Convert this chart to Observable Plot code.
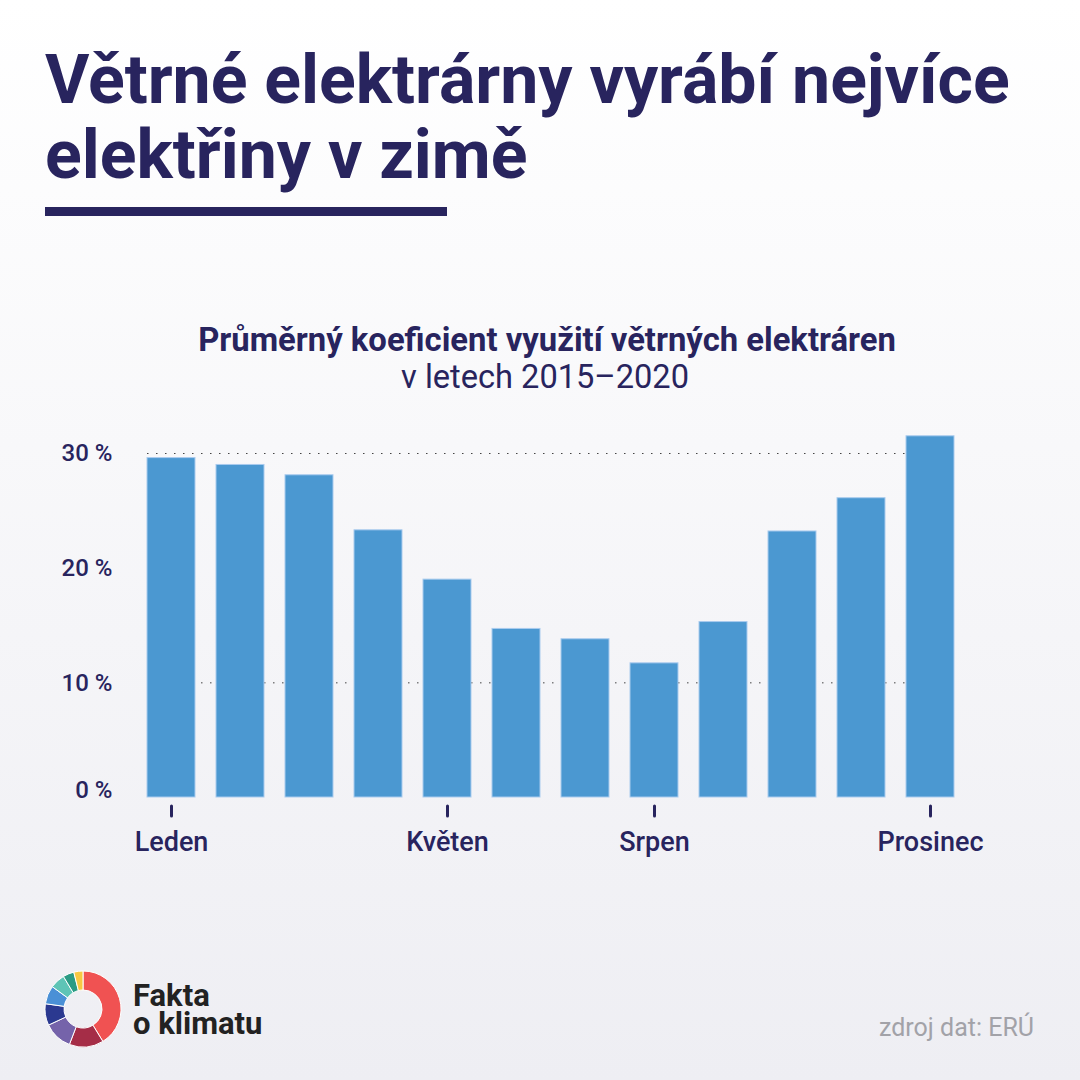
<!DOCTYPE html>
<html><head><meta charset="utf-8">
<script src="https://cdn.jsdelivr.net/npm/d3@7"></script>
<script src="https://cdn.jsdelivr.net/npm/@observablehq/plot@0.6"></script>
<style>
body{margin:0;}
#page{position:relative;width:1080px;height:1080px;background:linear-gradient(#ffffff,#eeeef3);font-family:Roboto,sans-serif;overflow:hidden;}
#overlay{position:absolute;left:0;top:0;}
#chart{position:absolute;left:0;top:400px;}
</style></head>
<body><div id="page"><div id="chart"></div><svg id="overlay" width="1080" height="1080"></svg></div>
<script>
const months = ["Leden","Únor","Březen","Duben","Květen","Červen","Červenec","Srpen","Září","Říjen","Listopad","Prosinec"];
const values = [29.6,29.0,28.1,23.3,19.0,14.7,13.8,11.7,15.3,23.2,26.1,31.5];
const shownMonths = ["Leden","Květen","Srpen","Prosinec"];
const yTicks = [10,20,30];
const gridValues = [10,30];
const logoShares = [148.5,52.5,44,33,28,23,17,14];
const logoColors = ["#f05252","#a52d47","#7563aa","#2b3990","#4a90d6","#5ec4b6","#2a9b84","#f7c843"];

const navy = "#28245e";
const data = months.map((m,i)=>({m, v: values[i]}));

const chart = Plot.plot({
  width:1080, height:480,
  marginLeft:126, marginRight:104, marginTop:0, marginBottom:74,
  x:{domain:months, padding:0.3, label:null},
  y:{domain:[0,30], range:[397,53], label:null},
  style:{background:"transparent", fontFamily:"Roboto, sans-serif", color:navy, overflow:"visible"},
  marks:[
    Plot.ruleY(gridValues,{stroke:"#444", strokeWidth:1, strokeDasharray:"1.5,7.5", insetLeft:21, insetRight:21}),
    Plot.barY(data,{x:"m", y:"v", fill:"#4b98d1", stroke:"#a9cbee", strokeWidth:1}),
    Plot.axisX({ticks:shownMonths, tickSize:10, tickPadding:15, strokeWidth:3, strokeLinecap:"round", fontSize:27, fontWeight:500, label:null}),
    Plot.axisY({ticks:yTicks, tickSize:0, tickPadding:14, tickFormat:d=>d+" %", fontSize:24, fontWeight:500, label:null}),
    Plot.axisY({ticks:[0], tickSize:0, tickPadding:14, tickFormat:d=>d+" %", fontSize:24, fontWeight:500, dy:-7, label:null})
  ]
});
document.getElementById("chart").appendChild(chart);

const svg = d3.select("#overlay");
const txt = (x,y,s,size,weight,fill,anchor="start") =>
  svg.append("text").attr("x",x).attr("y",y).attr("font-size",size).attr("font-weight",weight)
     .attr("fill",fill).attr("text-anchor",anchor).attr("font-family","Roboto, sans-serif").text(s);

txt(45,103,"Větrné elektrárny vyrábí nejvíce",68,700,navy);
txt(45,178,"elektřiny v zimě",68,700,navy);
svg.append("rect").attr("x",45).attr("y",207).attr("width",402).attr("height",9).attr("fill",navy);

txt(547,351,"Průměrný koeficient využití větrných elektráren",32.8,700,navy,"middle");
txt(545,388,"v letech 2015–2020",32.6,400,navy,"middle");

const brand = svg.append("text").attr("font-size",31).attr("font-weight",700).attr("fill","#222")
  .attr("font-family","Roboto, sans-serif");
brand.append("tspan").attr("x",133).attr("y",1006).text("Fakta");
brand.append("tspan").attr("x",133).attr("y",1034).text("o klimatu");
txt(1034,1036,"zdroj dat: ERÚ",25,400,"#a2a2a8","end");

// logo donut
const pie = d3.pie().sort(null).value(d=>d)(logoShares);
const arc = d3.arc().innerRadius(19).outerRadius(38);
const g = svg.append("g").attr("transform","translate(83,1009)");
g.selectAll("path").data(pie).join("path").attr("d",arc)
  .attr("fill",(d,i)=>logoColors[i]).attr("stroke","#fff").attr("stroke-width",1);
</script></body></html>
